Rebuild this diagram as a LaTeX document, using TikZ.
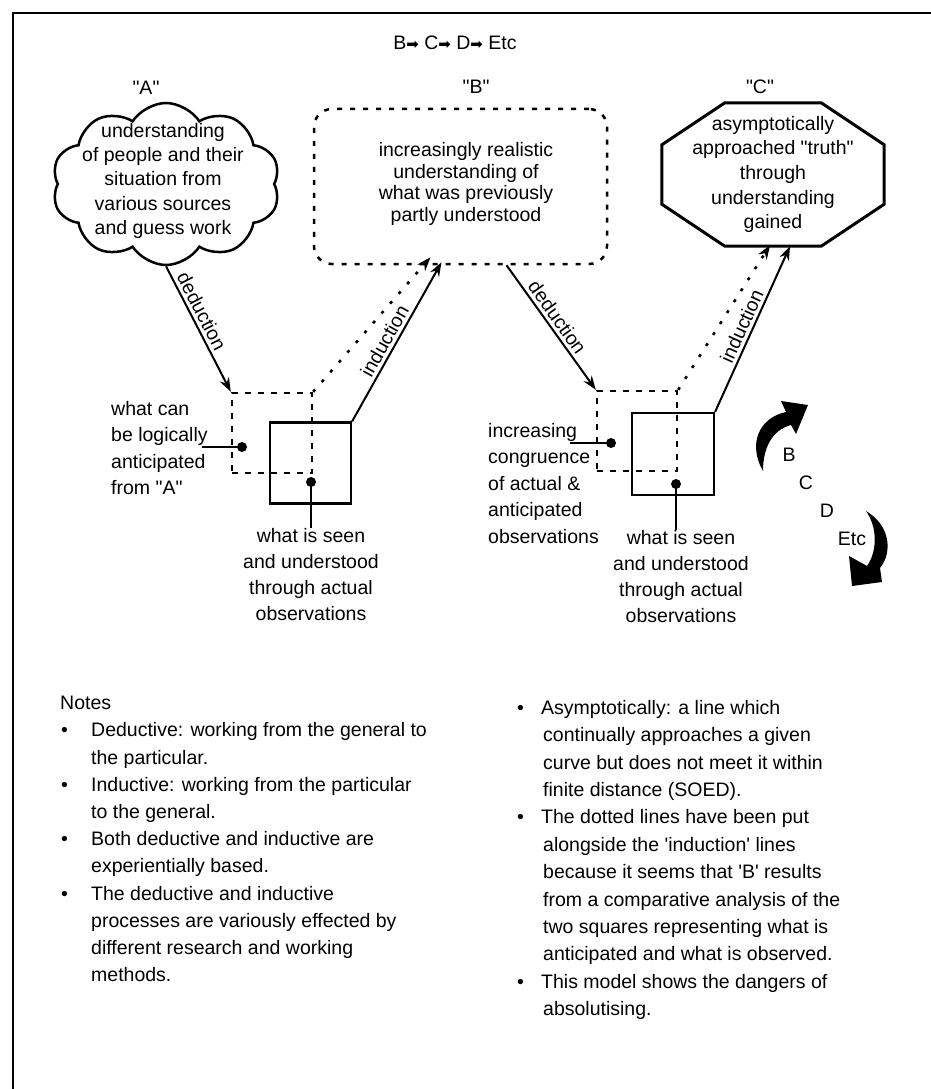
\documentclass[tikz,border=0pt]{standalone}
\usepackage{fontspec}
\setmainfont{Liberation Sans}
\newfontfamily\dingfont{DejaVu Sans}
\usetikzlibrary{arrows.meta,calc,positioning,shapes.symbols}
\newcommand\arrg{{\dingfont\fontsize{15}{15}\selectfont ➡}}
\newcommand\qq{\textquotedbl}
\newcommand\q{\textquotesingle}
\newcommand\nbul{\makebox[31pt][l]{\hspace{1pt}\textbullet}}
\newcommand\nind{\hspace*{31pt}}
\newcommand\rbul{\makebox[24pt][l]{\textbullet}}
\newcommand\rind{\hspace*{26pt}}

\begin{document}
\begin{tikzpicture}[x=1pt,y=-1pt,
  txt/.style={font=\fontsize{19.5}{#1}\selectfont,inner sep=0pt,align=center},
  txt/.default=26,
  frame/.style={line width=1.8pt},
  arr/.style={line width=2pt,-{Stealth[length=14pt,width=10pt]}},
  dotarr/.style={line width=2.6pt,dash pattern=on 3pt off 10pt,-{Stealth[length=14pt,width=10pt]}},
  antbox/.style={draw,line width=2.4pt,dash pattern=on 6pt off 7pt,minimum size=80pt,inner sep=0pt},
  seenbox/.style={draw,line width=2.2pt,minimum size=81pt,inner sep=0pt},
  blob/.style={fill,circle,minimum size=10pt,inner sep=0pt},
  lead/.style={line width=2pt},
  slab/.style={txt,above=3pt,sloped}]
  \useasboundingbox (0,0) rectangle (931,1089);
  \draw[frame] (931,13) -- (13,13) -- (13,1089);

  \node[txt] (chain) at (455,43) {B\arrg{} C\arrg{} D\arrg{} Etc};
  \node[txt] (tagA) at (146,88) {\qq A\qq};
  \node[txt] (tagB) at (476,87) {\qq B\qq};
  \node[txt] (tagC) at (760,87) {\qq C\qq};

  \node[draw,cloud,cloud puffs=10,cloud puff arc=115,cloud ignores aspect,
    minimum width=228pt,minimum height=162pt,line width=2.5pt] (cloudA) at (166,184) {};
  \node[txt=24.3,anchor=north] (understA) at (163,123)
    {understanding\\of people and their\\situation from\\various sources\\and guess work};

  \node[draw,rounded corners=18pt,line width=2.5pt,dash pattern=on 5pt off 8pt,
    minimum width=293pt,minimum height=155pt] (realB) at (460.5,186.5) {};
  \node[txt=21.7,anchor=north] (realTxt) at (466,142)
    {increasingly realistic\\understanding of\\what was previously\\partly understood};

  \node[txt=24.7,minimum width=222pt,minimum height=143pt] (truthC) at (773,174.5)
    {asymptotically\\approached \qq truth\qq\\through\\understanding\\gained};
  \draw[line width=3pt] ($(truthC.north west)+(63,0)$) -- ($(truthC.north east)+(-63,0)$)
    -- ($(truthC.north east)+(0,42)$) -- ($(truthC.south east)+(0,-42)$)
    -- ($(truthC.south east)+(-63,0)$) -- ($(truthC.south west)+(63,0)$)
    -- ($(truthC.south west)+(0,-42)$) -- ($(truthC.north west)+(0,42)$) -- cycle;

  \node[antbox] (antA) at (272,433) {};
  \node[seenbox] (seenA) at (310.5,463) {};
  \node[antbox] (antC) at (637,431) {};
  \node[seenbox,minimum size=82pt] (seenC) at (673,454) {};

  \node[blob] (dotAntA) at (242,447) {};
  \node[blob] (dotSeenA) at (311,482) {};
  \node[blob] (dotAntC) at (611,443) {};
  \node[blob] (dotSeenC) at (676,484) {};

  \node[txt=26.5,align=left,anchor=north west] (lblAntA) at (111,401)
    {what can\\be logically\\anticipated\\from \qq A\qq};
  \node[txt=26,anchor=north] (lblSeenA) at (311,528)
    {what is seen\\and understood\\through actual\\observations};
  \node[txt=26.5,align=left,anchor=north west] (lblAntC) at (488,423)
    {increasing\\congruence\\of actual \&\\anticipated\\observations};
  \node[txt=26,anchor=north] (lblSeenC) at (681,530)
    {what is seen\\and understood\\through actual\\observations};

  \coordinate (leadA) at (202,447);
  \coordinate (leadC) at (570,443);
  \draw[lead] (leadA) -- (dotAntA);
  \draw[lead] (leadC) -- (dotAntC);
  \draw[lead] (dotSeenA.center) -- (dotSeenA |- lblSeenA.north);
  \draw[lead] (dotSeenC.center) -- (dotSeenC |- lblSeenC.north);

  \draw[arr] (cloudA.south) -- node[slab,pos=0.4] (dedA) {deduction} (antA.north west);
  \draw[arr] ($(realB.south)+(46,0)$) -- node[slab,pos=0.47] (dedB) {deduction} (antC.north west);
  \draw[dotarr] (antA.north east) -- ($(realB.south)+(-30,-8)$);
  \draw[arr] (seenA.north east) -- node[slab,pos=0.47] (indA) {induction} ($(realB.south)+(-19,-3)$);
  \draw[dotarr] (antC.north east) -- ($(truthC.south)+(-3,-1)$);
  \draw[arr] (seenC.north east) -- node[slab,pos=0.49] (indC) {induction} ($(truthC.south)+(17,0)$);

  \node[txt] (cycB) at (789,455) {B};
  \node[txt] (cycC) at (806,483) {C};
  \node[txt] (cycD) at (827,511) {D};
  \node[txt] (cycEtc) at (852,539) {Etc};
  \fill (763,471) .. controls (748,445) and (758,418) .. (786,412) -- (781,401) -- (808,405)
    -- (796,434) -- (791,425) .. controls (772,430) and (763,448) .. (763,471) -- cycle;
  \fill (866,511) .. controls (890,525) and (893,552) .. (880,568) -- (882,582) -- (852,586)
    -- (849,556) -- (867,566) .. controls (877,552) and (878,528) .. (866,511) -- cycle;

  \node[txt=27.2,align=left,anchor=north west] (notesL) at (60,696)
    {Notes\\
     \nbul Deductive: working from the general to\\
     \nind the particular.\\
     \nbul Inductive: working from the particular\\
     \nind to the general.\\
     \nbul Both deductive and inductive are\\
     \nind experientially based.\\
     \nbul The deductive and inductive\\
     \nind processes are variously effected by\\
     \nind different research and working\\
     \nind methods.};
  \node[txt=27.4,align=left,anchor=north west] (notesR) at (517,700)
    {\rbul Asymptotically: a line which\\
     \rind continually approaches a given\\
     \rind curve but does not meet it within\\
     \rind finite distance (SOED).\\
     \rbul The dotted lines have been put\\
     \rind alongside the \q induction\q{} lines\\
     \rind because it seems that \q B\q{} results\\
     \rind from a comparative analysis of the\\
     \rind two squares representing what is\\
     \rind anticipated and what is observed.\\
     \rbul This model shows the dangers of\\
     \rind absolutising.};
\end{tikzpicture}
\end{document}
